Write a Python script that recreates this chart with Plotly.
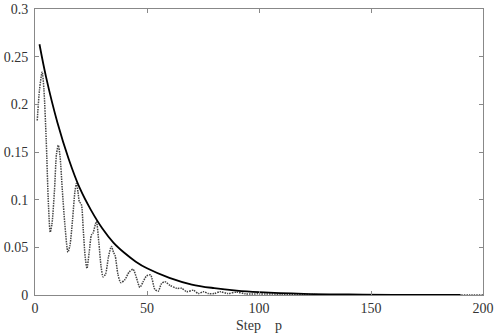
import plotly.graph_objects as go

# smooth envelope (solid line)
env_x = [2, 5, 10, 15, 20, 25, 30, 35, 40, 45, 50, 60, 70, 80, 90, 100, 120, 140, 160, 190]
env_y = [0.263, 0.228, 0.181, 0.143, 0.112, 0.089, 0.070, 0.055, 0.044, 0.035, 0.028,
         0.018, 0.011, 0.0072, 0.0046, 0.0030, 0.0012, 0.0005, 0.0002, 0.00005]

# oscillating series (dotted line)
osc_x = [1, 2, 3.2, 4, 5, 6, 6.8, 7.6, 8.7, 9.6, 10.4, 11.2, 12.2, 13.3, 14.7, 15.6, 16.8,
         17.8, 18.5, 19.2, 19.8, 20.7, 21.5, 22.4, 23.2, 24.2, 25.2, 25.9, 27.4, 28.5, 29.5,
         30.4, 31.5, 32.8, 34.1, 35.0, 35.8, 37.0, 38.3, 40.1, 42.0, 43.8, 45.3, 46.8, 48.3,
         49.8, 51.6, 53.5, 55.0, 56.5, 58.0, 60.3, 63.3, 65.5, 67.7, 70.7, 72.9, 75.2, 77.4,
         80, 82.7, 86, 90, 94, 100, 110, 120, 140, 160, 180, 200]
osc_y = [0.183, 0.215, 0.234, 0.215, 0.163, 0.095, 0.066, 0.075, 0.110, 0.148, 0.157, 0.145,
         0.110, 0.075, 0.045, 0.052, 0.080, 0.108, 0.117, 0.108, 0.098, 0.095, 0.070, 0.040,
         0.028, 0.045, 0.063, 0.065, 0.077, 0.055, 0.030, 0.019, 0.022, 0.040, 0.051, 0.045,
         0.041, 0.022, 0.013, 0.016, 0.024, 0.027, 0.018, 0.008, 0.014, 0.020, 0.021, 0.006,
         0.004, 0.012, 0.014, 0.010, 0.007, 0.007, 0.0035, 0.005, 0.0015, 0.0035, 0.0015,
         0.0015, 0.0035, 0.0015, 0.003, 0.0012, 0.0012, 0.0008, 0.0005, 0.0002, 0.0001, 0.0, 0.0]

serif = 'Liberation Serif'

fig = go.Figure()
fig.add_trace(go.Scatter(x=osc_x, y=osc_y, mode='lines',
                         line=dict(color='#444444', width=1.5, dash='1.5px,1px',
                                   shape='spline', smoothing=0.7)))
fig.add_trace(go.Scatter(x=env_x, y=env_y, mode='lines',
                         line=dict(color='black', width=1.8, shape='spline')))

axis_style = dict(showline=True, linecolor='#888888', linewidth=1, mirror='ticks',
                  ticks='inside', ticklen=4, tickcolor='#888888', showgrid=False,
                  zeroline=False, automargin=False,
                  tickfont=dict(family=serif, size=14, color='#333333'))

fig.update_layout(
    width=498, height=333,
    margin=dict(l=35, r=15, t=9, b=38),
    paper_bgcolor='white', plot_bgcolor='white',
    showlegend=False,
    font=dict(family=serif, size=14, color='#333333'),
    xaxis=dict(range=[0, 200], tickvals=[0, 50, 100, 150, 200],
               title=dict(text='Step\u00a0\u00a0\u00a0 p', standoff=6,
                          font=dict(family=serif, size=14, color='#333333')),
               **axis_style),
    yaxis=dict(range=[0, 0.3], tickvals=[0, 0.05, 0.1, 0.15, 0.2, 0.25, 0.3],
               ticklabelstandoff=3, **axis_style),
)

fig.write_html("out.html", config={'displayModeBar': False},
               post_script="document.body.style.margin='0px';")
